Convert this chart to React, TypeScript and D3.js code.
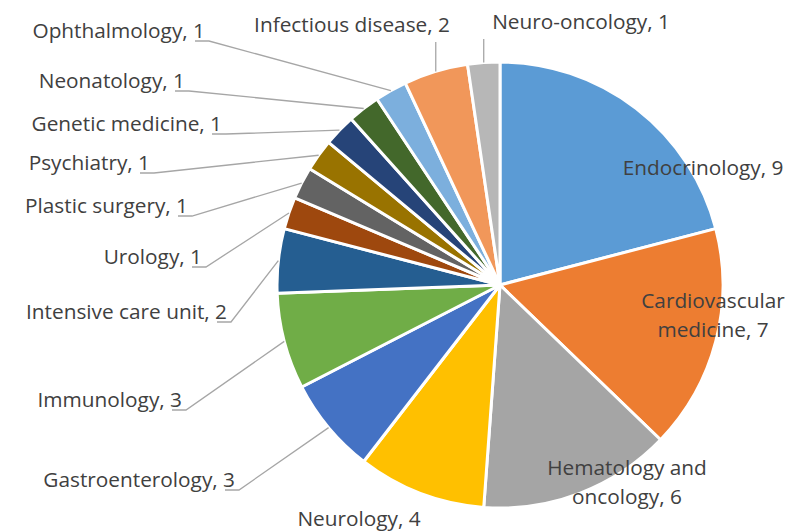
import * as d3 from "d3";

const categories = [
  "Endocrinology",
  "Cardiovascular medicine",
  "Hematology and oncology",
  "Neurology",
  "Gastroenterology",
  "Immunology",
  "Intensive care unit",
  "Urology",
  "Plastic surgery",
  "Psychiatry",
  "Genetic medicine",
  "Neonatology",
  "Ophthalmology",
  "Infectious disease",
  "Neuro-oncology",
];
const counts = [9, 7, 6, 4, 3, 3, 2, 1, 1, 1, 1, 1, 1, 2, 1];
const colors = [
  "#5B9BD5",
  "#ED7D31",
  "#A5A5A5",
  "#FFC000",
  "#4472C4",
  "#70AD47",
  "#255E91",
  "#9E480E",
  "#636363",
  "#997300",
  "#264478",
  "#43682B",
  "#7CAFDD",
  "#F1975A",
  "#B7B7B7",
];

// where each label sits (x = anchor point, y = first baseline)
// leader: "left" = line from right end of label, "top" = vertical line down
const labelLayout = [
  { x: 703, y: 175, anchor: "middle", wrap: 0, leader: "" },
  { x: 713, y: 308, anchor: "middle", wrap: 1, leader: "" },
  { x: 627, y: 475, anchor: "middle", wrap: 2, leader: "" },
  { x: 359, y: 526, anchor: "middle", wrap: 0, leader: "" },
  { x: 235, y: 487, anchor: "end", wrap: 0, leader: "left" },
  { x: 182, y: 407, anchor: "end", wrap: 0, leader: "left" },
  { x: 227, y: 319, anchor: "end", wrap: 0, leader: "left" },
  { x: 202, y: 264, anchor: "end", wrap: 0, leader: "left" },
  { x: 188, y: 213, anchor: "end", wrap: 0, leader: "left" },
  { x: 150, y: 170, anchor: "end", wrap: 0, leader: "left" },
  { x: 222, y: 131, anchor: "end", wrap: 0, leader: "left" },
  { x: 185, y: 88, anchor: "end", wrap: 0, leader: "left" },
  { x: 205, y: 38, anchor: "end", wrap: 0, leader: "left" },
  { x: 352, y: 32, anchor: "middle", wrap: 0, leader: "top" },
  { x: 581, y: 29, anchor: "middle", wrap: 0, leader: "top" },
];

const W = 790;
const H = 531;
const cx = 500;
const cy = 285;
const R = 223;
const FONT = "'Open Sans', sans-serif";
const FS = 20.8;
const LH = 29;

function splitLabel(text: string, wrap: number) {
  if (!wrap) return [text];
  const words = text.split(" ");
  return [words.slice(0, wrap).join(" "), words.slice(wrap).join(" ")];
}

export default function App() {
  const pie = d3
    .pie<number>()
    .sort(null)
    .value((d) => d);
  const arcs = pie(counts);
  const arc = d3.arc<d3.PieArcDatum<number>>().innerRadius(0).outerRadius(R);

  const leaders = arcs.map((a, i) => {
    const lay = labelLayout[i];
    if (!lay.leader) return null;
    const mid = (a.startAngle + a.endAngle) / 2;
    const px = cx + R * Math.sin(mid);
    const py = cy - R * Math.cos(mid);
    let pts: [number, number][];
    if (lay.leader === "top") {
      pts = [
        [px, lay.y + 10],
        [px, py],
      ];
    } else {
      const ly = lay.y + 3;
      pts = [
        [lay.x - 10, ly],
        [lay.x + 4, ly],
        [px, py],
      ];
    }
    return d3.line()(pts);
  });

  return (
    <svg
      width={W}
      height={H}
      viewBox={`0 0 ${W} ${H}`}
      style={{ position: "absolute", left: 0, top: 0, background: "#fff" }}
    >
      <g transform={`translate(${cx},${cy})`}>
        {arcs.map((a, i) => (
          <path
            key={i}
            d={arc(a) || ""}
            fill={colors[i]}
            stroke="#fff"
            strokeWidth={3}
            strokeLinejoin="round"
          />
        ))}
      </g>
      {leaders.map((d, i) =>
        d ? (
          <path key={i} d={d} fill="none" stroke="#A6A6A6" strokeWidth={1.3} />
        ) : null
      )}
      {categories.map((c, i) => {
        const lay = labelLayout[i];
        const lines = splitLabel(`${c}, ${counts[i]}`, lay.wrap);
        return (
          <text
            key={i}
            x={lay.x}
            y={lay.y}
            fontFamily={FONT}
            fontSize={FS}
            fill="#404040"
            textAnchor={lay.anchor}
          >
            {lines.map((l, j) => (
              <tspan key={j} x={lay.x} dy={j === 0 ? 0 : LH}>
                {l}
              </tspan>
            ))}
          </text>
        );
      })}
    </svg>
  );
}
